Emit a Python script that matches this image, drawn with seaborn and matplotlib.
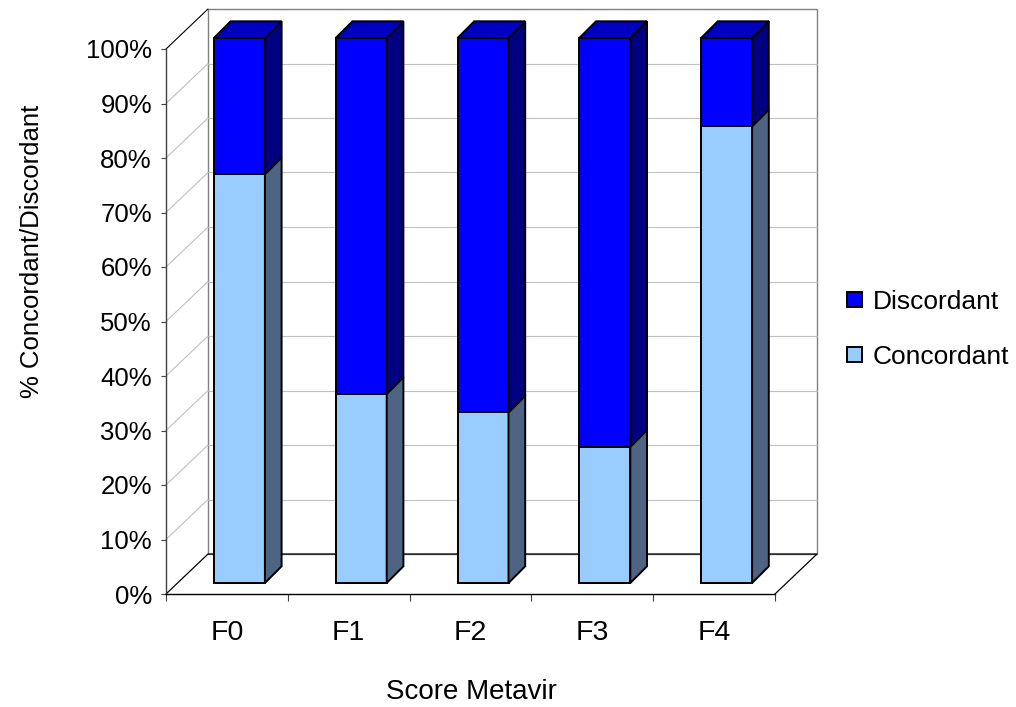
import matplotlib
matplotlib.use("Agg")
import matplotlib.pyplot as plt
from matplotlib.patches import Polygon, Patch, Rectangle
from matplotlib.transforms import Affine2D
import pandas as pd
import seaborn as sns

# ---- data -------------------------------------------------------------
scores = ["F0", "F1", "F2", "F3", "F4"]
concordant = [75.0, 34.7, 31.3, 25.0, 83.8]
discordant = [25.0, 65.3, 68.7, 75.0, 16.2]
y_ticks = [0, 10, 20, 30, 40, 50, 60, 70, 80, 90, 100]
y_tick_labels = ["0%", "10%", "20%", "30%", "40%", "50%",
                 "60%", "70%", "80%", "90%", "100%"]
series_names = ["Discordant", "Concordant"]

# ---- colours ----------------------------------------------------------
DISC_FRONT, DISC_TOP, DISC_SIDE = "#0000FF", "#0000C0", "#000080"
CONC_FRONT, CONC_SIDE = "#99CCFF", "#4F6482"
GRID = "#C0C0C0"
WALL_EDGE = "#808080"

sns.set_theme(style="white")
plt.rcParams["font.family"] = ["Liberation Sans", "DejaVu Sans"]
plt.rcParams["text.color"] = "black"
NARROW = ["Liberation Sans Narrow", "Liberation Sans", "DejaVu Sans"]

W, H = 1016, 707
fig = plt.figure(figsize=(W / 100, H / 100), dpi=100)
fig.patch.set_facecolor("white")

# front plane of the pseudo-3D box
AX_L, AX_B, AX_W, AX_H = 166, 113, 609, 545
ax = fig.add_axes([AX_L / W, AX_B / H, AX_W / W, AX_H / H])
ax.patch.set_visible(False)

n = len(scores)
px_x = AX_W / n        # pixels per category
px_y = AX_H / 100.0    # pixels per percent


def to_data(dx_px, dy_px):
    return dx_px / px_x, dy_px / px_y


# depth offsets (pixels): bar plane, bar thickness, back wall
BAR_SHIFT = (12.5, 11.0)
BAR_DEPTH = to_data(16.7, 16.7)
WALL = to_data(42.0, 40.0)
bar_tr = ax.transData + Affine2D().translate(*BAR_SHIFT)

x0, x1 = -0.5, n - 0.5
wdx, wdy = WALL

# back wall and floor
ax.add_patch(Rectangle((x0 + wdx, wdy), x1 - x0, 100, facecolor="white",
                       edgecolor=WALL_EDGE, lw=1.0, zorder=0.5, clip_on=False))
for v in y_ticks[1:-1]:
    ax.plot([x0 + wdx, x1 + wdx], [v + wdy, v + wdy], color=GRID, lw=0.8,
            zorder=0.6, clip_on=False)
    ax.plot([x0, x0 + wdx], [v, v + wdy], color=GRID, lw=0.8,
            zorder=0.6, clip_on=False)
ax.plot([x0, x0 + wdx], [100, 100 + wdy], color="black", lw=0.8,
        zorder=0.7, clip_on=False)
ax.plot([x0, x0 + wdx, x1 + wdx, x1], [0, wdy, wdy, 0], color="black",
        lw=0.9, zorder=0.7, clip_on=False)

# front faces of the stacked bars
df = pd.DataFrame({"score": scores, "concordant": concordant,
                   "discordant": discordant})
df["total"] = df["concordant"] + df["discordant"]
BAR_W = 51 / px_x
common = dict(saturation=1, width=BAR_W, edgecolor="black", linewidth=1.4,
              ax=ax, zorder=3)
sns.barplot(data=df, x="score", y="total", color=DISC_FRONT, **common)
sns.barplot(data=df, x="score", y="concordant", color=CONC_FRONT, **common)
for p in ax.patches:
    if isinstance(p, Rectangle) and p.get_zorder() == 3:
        p.set_transform(bar_tr)
        p.set_clip_on(False)
        p.set_joinstyle("miter")

# side and top faces
ddx, ddy = BAR_DEPTH
face_kw = dict(edgecolor="black", lw=1.4, zorder=3, clip_on=False,
               transform=bar_tr, joinstyle="miter")
for i in range(n):
    xl = i - BAR_W / 2
    xr = i + BAR_W / 2
    c = df["concordant"][i]
    t = df["total"][i]
    ax.add_patch(Polygon([(xr, 0), (xr, c), (xr + ddx, c + ddy),
                          (xr + ddx, ddy)], facecolor=CONC_SIDE, **face_kw))
    ax.add_patch(Polygon([(xr, c), (xr, t), (xr + ddx, t + ddy),
                          (xr + ddx, c + ddy)], facecolor=DISC_SIDE, **face_kw))
    ax.add_patch(Polygon([(xl, t), (xr, t), (xr + ddx, t + ddy),
                          (xl + ddx, t + ddy)], facecolor=DISC_TOP, **face_kw))

# axes, ticks and labels
ax.set_xlim(x0, x1)
ax.set_ylim(0, 100)
for s in ("top", "right"):
    ax.spines[s].set_visible(False)
ax.spines["left"].set_color("#404040")
ax.spines["left"].set_linewidth(1.0)
ax.spines["bottom"].set_color("black")
ax.spines["bottom"].set_linewidth(1.0)

ax.set_yticks(y_ticks, y_tick_labels)
ax.tick_params(axis="y", left=True, direction="out", length=3.6, width=0.8,
               color="#404040", pad=6.5, labelsize=18.5, labelcolor="black")
ax.set_xticks(range(n), scores)
ax.set_xticks([x0 + k for k in range(n + 1)], minor=True)
ax.tick_params(axis="x", which="major", bottom=False, length=0, pad=19,
               labelsize=20.5, labelcolor="black")
ax.tick_params(axis="x", which="minor", bottom=True, direction="out",
               length=5, width=0.8, color="#404040")
for lbl in ax.get_xticklabels():
    lbl.set_fontfamily(NARROW)

ax.set_xlabel("Score Metavir", fontsize=20, family=NARROW, color="black")
ax.xaxis.label.set_verticalalignment("center")
ax.xaxis.set_label_coords((471 - AX_L) / AX_W, ((H - 692) - AX_B) / AX_H)
ax.set_ylabel("% Concordant/Discordant", fontsize=18.5, family=NARROW,
              color="black")
ax.yaxis.label.set_verticalalignment("center")
ax.yaxis.set_label_coords((32 - AX_L) / AX_W, ((H - 251) - AX_B) / AX_H)

# legend
handles = [Patch(facecolor=DISC_FRONT, edgecolor="black", lw=1.4,
                 label=series_names[0]),
           Patch(facecolor=CONC_FRONT, edgecolor="black", lw=1.4,
                 label=series_names[1])]
leg = fig.legend(handles=handles, loc="center left",
                 bbox_to_anchor=(847 / W, 1 - 329.5 / H),
                 bbox_transform=fig.transFigure, frameon=False, fontsize=19,
                 handlelength=0.57, handleheight=0.5, handletextpad=0.4,
                 labelspacing=1.2, borderpad=0, borderaxespad=0)
for txt in leg.get_texts():
    txt.set_color("black")

fig.savefig("out.png", dpi=100)
